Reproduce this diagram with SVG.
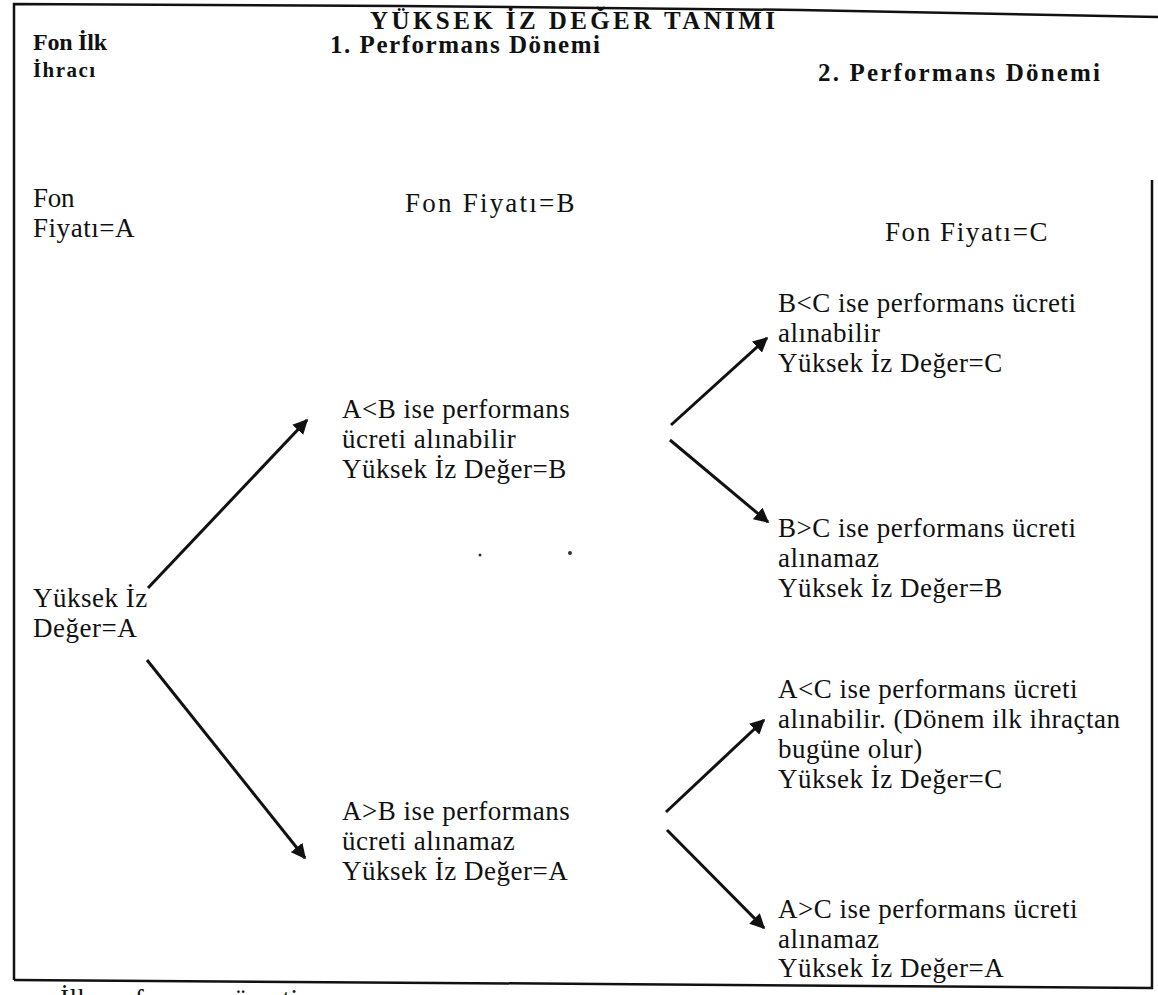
<svg xmlns="http://www.w3.org/2000/svg" width="1158" height="995" viewBox="0 0 1158 995">
<style>
text{font-family:"Liberation Serif","DejaVu Serif",serif;fill:#111}
.h{font-weight:bold;font-size:25px}
.t{font-size:27px;letter-spacing:0.5px}
.c{stroke:#111;stroke-width:3;fill:none;marker-end:url(#ah)}
.f{stroke:#111;stroke-width:2.5;fill:none}
</style>
<defs>
<marker id="ah" viewBox="0 0 10 10" refX="9" refY="5" markerWidth="5" markerHeight="5" orient="auto" markerUnits="strokeWidth">
<path d="M0,0 L10,5 L0,10 z" fill="#111"/>
</marker>
</defs>
<rect width="1158" height="995" fill="#fff"/>
<g id="frame">
<polyline class="f" points="14,980 14,4 400,6 800,10 1158,17"/>
<polyline class="f" points="14,980 600,984 1152,988 1152,180"/>
</g>
<g id="title"><text class="h" x="370" y="29" textLength="405">YÜKSEK İZ DEĞER TANIMI</text></g>
<g id="col0-head"><text class="h" x="33" y="50" style="font-size:24px" textLength="74">Fon İlk</text><text class="h" x="33" y="77" style="font-size:21px" textLength="62">İhracı</text></g>
<g id="col1-head"><text class="h" x="330" y="53" textLength="270">1. Performans Dönemi</text></g>
<g id="col2-head"><text class="h" x="818" y="81" textLength="282">2. Performans Dönemi</text></g>
<g id="price-a"><text class="t" x="33" y="207" textLength="42">Fon</text><text class="t" x="33" y="237" textLength="102">Fiyatı=A</text></g>
<g id="price-b"><text class="t" x="405" y="212" textLength="170">Fon Fiyatı=B</text></g>
<g id="price-c"><text class="t" x="885" y="241" textLength="163">Fon Fiyatı=C</text></g>
<g id="start"><text class="t" x="33" y="607">Yüksek İz</text><text class="t" x="33" y="637">Değer=A</text></g>
<g id="n-ab-lt"><text class="t" x="342" y="418">A&lt;B ise performans</text><text class="t" x="342" y="448">ücreti alınabilir</text><text class="t" x="342" y="478">Yüksek İz Değer=B</text></g>
<g id="n-ab-gt"><text class="t" x="342" y="820">A&gt;B ise performans</text><text class="t" x="342" y="850">ücreti alınamaz</text><text class="t" x="342" y="880">Yüksek İz Değer=A</text></g>
<g id="n-bc-lt"><text class="t" x="778" y="312">B&lt;C ise performans ücreti</text><text class="t" x="778" y="342">alınabilir</text><text class="t" x="778" y="372">Yüksek İz Değer=C</text></g>
<g id="n-bc-gt"><text class="t" x="778" y="537">B&gt;C ise performans ücreti</text><text class="t" x="778" y="567">alınamaz</text><text class="t" x="778" y="597">Yüksek İz Değer=B</text></g>
<g id="n-ac-lt"><text class="t" x="778" y="698">A&lt;C ise performans ücreti</text><text class="t" x="778" y="728">alınabilir. (Dönem ilk ihraçtan</text><text class="t" x="778" y="758">bugüne olur)</text><text class="t" x="778" y="788">Yüksek İz Değer=C</text></g>
<g id="n-ac-gt"><text class="t" x="778" y="918">A&gt;C ise performans ücreti</text><text class="t" x="778" y="948">alınamaz</text><text class="t" x="778" y="977">Yüksek İz Değer=A</text></g>
<g id="note"><text class="t" x="60" y="1008">İlk performans ücreti</text></g>
<g id="connectors">
<line class="c" x1="148" y1="588" x2="307" y2="420"/>
<line class="c" x1="147" y1="660" x2="305" y2="858"/>
<line class="c" x1="671" y1="425" x2="767" y2="338"/>
<line class="c" x1="670" y1="440" x2="768" y2="522"/>
<line class="c" x1="666" y1="812" x2="764" y2="720"/>
<line class="c" x1="667" y1="830" x2="764" y2="928"/>
</g>
<g id="specks"><circle cx="480" cy="555" r="1.5" fill="#333"/><circle cx="570" cy="553" r="2" fill="#333"/></g>
</svg>
